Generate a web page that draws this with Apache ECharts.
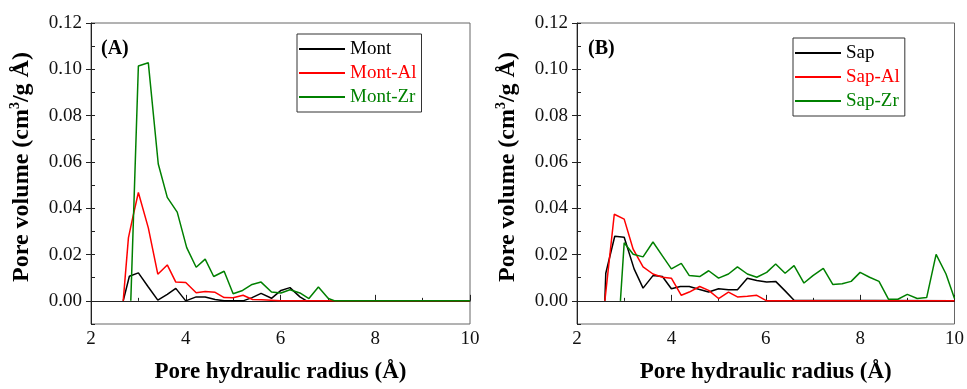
<!DOCTYPE html>
<html>
<head>
<meta charset="utf-8">
<script src="https://cdn.jsdelivr.net/npm/echarts@6/dist/echarts.min.js"></script>
<style>
html,body{margin:0;padding:0;background:#fff;}
#chart_container{width:967px;height:389px;}
</style>
</head>
<body>
<div id="chart_container"></div>
<script>
var serif = '"Liberation Serif","Times New Roman",serif';

// panel A, [radius, pore volume]
var mont = [[2.68,0],[2.81,0.0106],[3.0,0.0121],[3.21,0.006],[3.41,0.0003],[3.61,0.0028],[3.79,0.0054],[4.0,0],[4.22,0.0017],[4.41,0.0017],[4.62,0.0006],[4.81,0],[5.0,0],[5.21,0],[5.40,0.0014],[5.59,0.0032],[5.81,0.0011],[6.01,0.0045],[6.20,0.0057],[6.41,0.0017],[6.55,0],[10,0]];
var montAl = [[2.68,0],[2.79,0.0272],[2.89,0.0368],[3.0,0.0468],[3.21,0.0315],[3.41,0.0115],[3.61,0.0155],[3.79,0.0081],[4.0,0.0079],[4.22,0.0035],[4.41,0.0040],[4.62,0.0037],[4.81,0.0014],[5.0,0.0013],[5.21,0.0024],[5.41,0.0006],[5.6,0.0005],[5.8,0.0003],[6.0,0],[10,0]];
var montZr = [[2.84,0],[3.0,0.1014],[3.21,0.1028],[3.42,0.0591],[3.61,0.0447],[3.82,0.0383],[4.02,0.0230],[4.22,0.0145],[4.41,0.018],[4.59,0.0105],[4.81,0.0128],[5.0,0.0031],[5.2,0.0045],[5.40,0.0071],[5.59,0.0081],[5.81,0.0038],[6.01,0.0034],[6.20,0.0048],[6.41,0.0034],[6.60,0.001],[6.80,0.006],[7.01,0.001],[7.15,0],[10,0]];

// panel B
var sap = [[2.59,0],[2.61,0.0119],[2.80,0.0279],[3.0,0.0275],[3.21,0.0138],[3.40,0.0055],[3.61,0.0109],[3.81,0.0105],[4.0,0.0052],[4.19,0.0062],[4.38,0.0062],[4.58,0.005],[4.79,0.0038],[5.0,0.0052],[5.21,0.0048],[5.40,0.0048],[5.61,0.0098],[5.81,0.0088],[6.02,0.0081],[6.21,0.0084],[6.41,0.0043],[6.60,0.0003],[10,0]];
var sapAl = [[2.59,0],[2.79,0.0374],[3.0,0.0353],[3.19,0.0223],[3.40,0.0147],[3.61,0.0116],[3.81,0.0102],[4.0,0.0098],[4.21,0.0024],[4.38,0.0038],[4.60,0.0062],[4.79,0.0045],[5.0,0.001],[5.21,0.0038],[5.40,0.0017],[5.61,0.002],[5.81,0.0024],[6.02,0],[10,0]];
var sapZr = [[2.92,0],[3.0,0.0251],[3.19,0.0201],[3.40,0.019],[3.61,0.0254],[3.81,0.0194],[4.0,0.0138],[4.21,0.0162],[4.38,0.0109],[4.60,0.0105],[4.79,0.013],[5.0,0.0098],[5.21,0.0116],[5.40,0.0147],[5.61,0.0116],[5.81,0.0102],[6.02,0.0123],[6.21,0.0159],[6.41,0.0119],[6.60,0.0152],[6.81,0.0077],[7.0,0.0109],[7.22,0.014],[7.42,0.0071],[7.62,0.0074],[7.81,0.0084],[8.0,0.0123],[8.20,0.0102],[8.40,0.0084],[8.60,0.0007],[8.80,0.0007],[9.0,0.0028],[9.21,0.001],[9.41,0.0014],[9.61,0.0201],[9.82,0.0116],[10.0,0.001]];

var yLabels = [0, 0.02, 0.04, 0.06, 0.08, 0.10, 0.12];
var yMinor = [-0.01,0,0.01,0.02,0.03,0.04,0.05,0.06,0.07,0.08,0.09,0.10,0.11,0.12];
var colors = ['#000000', '#ff0000', '#008000'];

function xAxisFor(gi){
	return {
		type:'value', gridIndex:gi, min:2, max:10, interval:2,
		name:'Pore hydraulic radius (Å)', nameLocation:'middle', nameGap:37,
		nameTextStyle:{fontFamily:serif, fontWeight:'bold', fontSize:23, color:'#000'},
		axisLine:{lineStyle:{color:'#222', width:1}},
		axisTick:{inside:true, length:6, lineStyle:{color:'#222'}},
		minorTick:{show:true, splitNumber:2, length:3, lineStyle:{color:'#222'}},
		axisLabel:{fontFamily:serif, fontSize:19, color:'#111', margin:6},
		splitLine:{show:false}
	};
}
function yAxesFor(gi){
	return [{
		type:'value', gridIndex:gi, min:-0.01, max:0.12, interval:0.01,
		name:'Pore volume (cm{sup|3}/g Å)', nameLocation:'middle', nameGap:55,
		nameTextStyle:{fontFamily:serif, fontWeight:'bold', fontSize:24, color:'#000', lineHeight:28, padding:[0,0,0,13],
			rich:{sup:{fontFamily:serif, fontWeight:'bold', fontSize:14, lineHeight:17, verticalAlign:'top', color:'#000'}}},
		axisLine:{lineStyle:{color:'#222', width:1}},
		axisTick:{inside:true, length:4, customValues:yMinor, lineStyle:{color:'#222'}},
		axisLabel:{fontFamily:serif, fontSize:19, color:'#111', margin:9, customValues:yLabels,
			formatter:function(v){ return v.toFixed(2); }},
		splitLine:{show:false}
	},{
		type:'value', gridIndex:gi, min:-0.01, max:0.12, position:'left',
		axisLine:{show:false},
		axisTick:{show:true, inside:false, length:5, customValues:yLabels, lineStyle:{color:'#222'}},
		axisLabel:{show:false},
		splitLine:{show:false}
	}];
}
function lineSeries(name, data, color, xi, yi){
	return {
		name:name, type:'line', data:data, xAxisIndex:xi, yAxisIndex:yi,
		symbol:'none', lineStyle:{color:color, width:1.5}, itemStyle:{color:color},
		z:3, animation:false
	};
}
function legendFor(names, left, top){
	return {
		orient:'vertical', left:left, top:top,
		data:names.map(function(n, i){ return {name:n, textStyle:{color:colors[i]}}; }),
		icon:'rect', itemWidth:46, itemHeight:2, itemGap:4,
		padding:[5,5,5,2], borderColor:'#333', borderWidth:1,
		textStyle:{fontFamily:serif, fontSize:19, lineHeight:20},
		selectedMode:false
	};
}

var chart = echarts.init(document.getElementById('chart_container'));
var option = {
	backgroundColor:'#fff',
	animation:false,
	title:[
		{text:'(A)', left:96, top:34, textStyle:{fontFamily:serif, fontWeight:'bold', fontSize:20, color:'#000'}},
		{text:'(B)', left:583, top:34, textStyle:{fontFamily:serif, fontWeight:'bold', fontSize:20, color:'#000'}}
	],
	grid:[
		{left:91, top:23, width:379, height:305, show:true, borderColor:'#666', borderWidth:1, backgroundColor:'transparent'},
		{left:577, top:23, width:379, height:305, show:true, borderColor:'#666', borderWidth:1, backgroundColor:'transparent'}
	],
	legend:[
		legendFor(['Mont','Mont-Al','Mont-Zr'], 297, 34),
		legendFor(['Sap','Sap-Al','Sap-Zr'], 793, 38)
	],
	xAxis:[xAxisFor(0), xAxisFor(1)],
	yAxis:yAxesFor(0).concat(yAxesFor(1)),
	series:[
		lineSeries('Mont', mont, colors[0], 0, 0),
		lineSeries('Mont-Al', montAl, colors[1], 0, 0),
		lineSeries('Mont-Zr', montZr, colors[2], 0, 0),
		lineSeries('Sap', sap, colors[0], 1, 2),
		lineSeries('Sap-Al', sapAl, colors[1], 1, 2),
		lineSeries('Sap-Zr', sapZr, colors[2], 1, 2)
	]
};
chart.setOption(option);
</script>
</body>
</html>
